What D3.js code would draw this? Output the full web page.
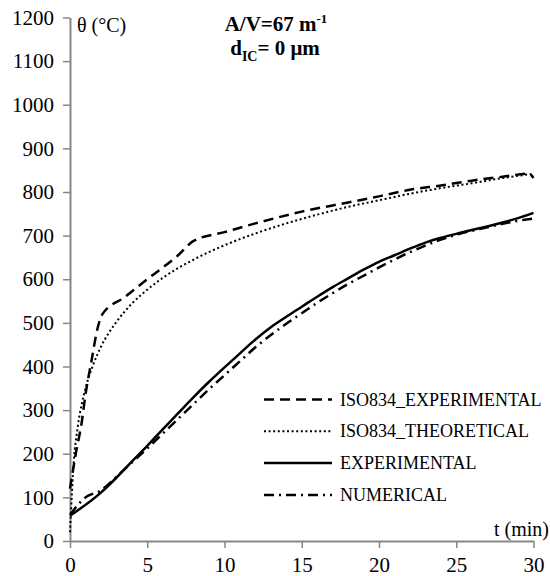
<!DOCTYPE html>
<html>
<head>
<meta charset="utf-8">
<script src="https://cdn.jsdelivr.net/npm/d3@7"></script>
<style>
    body { margin: 0; background: #fff; }
</style>
</head>
<body>
<div class="drawingboard"></div>
<script>
// time in minutes, temperatures in deg C
const tIsoExp = [0, 0.4, 0.75, 1, 1.4, 1.8, 2.1, 3.5, 5, 7, 8, 10, 12, 15, 18, 20, 22, 24, 26, 28, 29.7, 30];
const isoExp  = [120, 205, 270, 335, 415, 490, 520, 558, 600, 655, 688, 708, 728, 755, 776, 790, 805, 815, 826, 835, 842, 832];

const tIsoTheo = [0, 0.25, 0.5, 1, 1.5, 2, 3, 4, 5, 6, 8, 10, 12, 14, 16, 18, 20, 22, 24, 26, 28, 30];
const isoTheo  = [20, 185, 261, 349, 404, 445, 502, 544, 576, 603, 645, 678, 705, 728, 748, 766, 781, 796, 809, 820, 832, 842];

const tSteel = [0, 2, 3, 4, 5, 6, 7, 8, 9, 10, 11, 12, 13, 14, 15, 16, 17, 18, 19, 20, 21, 22, 23, 24, 25, 26, 27, 28, 29, 30];
const experimental = [58, 111, 145, 182, 218, 256, 293, 330, 365, 398, 430, 462, 490, 514, 537, 560, 582, 602, 622, 640, 655, 670, 684, 695, 704, 713, 721, 730, 740, 752];

const tNum = [0, 1, 2, 3, 4, 5, 6, 7, 8, 9, 10, 11, 12, 13, 14, 15, 16, 17, 18, 19, 20, 21, 22, 23, 24, 25, 26, 27, 28, 29, 30];
const numerical = [60, 100, 116, 147, 180, 212, 246, 280, 314, 348, 380, 412, 444, 472, 498, 522, 546, 568, 589, 608, 627, 645, 662, 677, 691, 702, 711, 719, 727, 734, 739];

const xTicks = [0, 5, 10, 15, 20, 25, 30];
const yTicks = [0, 100, 200, 300, 400, 500, 600, 700, 800, 900, 1000, 1100, 1200];

const seriesNames = ["ISO834_EXPERIMENTAL", "ISO834_THEORETICAL", "EXPERIMENTAL", "NUMERICAL"];
const dashes = ["10,6", "2,2.6", null, "10,5,2,5"];

function init() {
    var width = 550;
    var height = 576;
    var axisColor = "#878787";
    var serif = "Liberation Serif";

    var svg = d3.select(".drawingboard")
        .append("svg")
        .attr("width", width)
        .attr("height", height)
        .attr("font-family", serif);

    var x = d3.scaleLinear().domain([0, 30]).range([70, 533.5]);
    var y = d3.scaleLinear().domain([0, 1200]).range([541, 17.5]);

    // axes
    var yAxis = svg.append("g")
        .attr("transform", "translate(" + x(0) + ",0)")
        .call(d3.axisLeft(y).tickValues(yTicks).tickFormat(d3.format("d"))
            .tickSize(7).tickSizeOuter(0).tickPadding(9));

    var xAxis = svg.append("g")
        .attr("transform", "translate(0," + y(0) + ")")
        .call(d3.axisBottom(x).tickValues(xTicks).tickFormat(d3.format("d"))
            .tickSize(7).tickSizeOuter(0).tickPadding(9));

    [xAxis, yAxis].forEach(function (a) {
        a.attr("font-family", serif).attr("font-size", 21);
        a.select(".domain").attr("stroke", axisColor).attr("stroke-width", 2);
        a.selectAll(".tick line").attr("stroke", axisColor).attr("stroke-width", 1.5);
        a.selectAll(".tick text").attr("fill", "#000");
    });

    // series
    var all = [
        { t: tIsoExp, v: isoExp },
        { t: tIsoTheo, v: isoTheo },
        { t: tSteel, v: experimental },
        { t: tNum, v: numerical }
    ];

    var line = d3.line()
        .x(function (d) { return x(d[0]); })
        .y(function (d) { return y(d[1]); })
        .curve(d3.curveMonotoneX);

    all.forEach(function (s, i) {
        var pts = s.t.map(function (t, j) { return [t, s.v[j]]; });
        svg.append("path")
            .datum(pts)
            .attr("fill", "none")
            .attr("stroke", "#000")
            .attr("stroke-width", i == 1 ? 2 : 2.5)
            .attr("stroke-dasharray", dashes[i])
            .attr("d", line);
    });

    // legend
    var legend = svg.append("g");
    seriesNames.forEach(function (name, i) {
        var ly = 399.5 + i * 31.8;
        legend.append("line")
            .attr("x1", 264).attr("x2", 332)
            .attr("y1", ly).attr("y2", ly)
            .attr("stroke", "#000")
            .attr("stroke-width", i == 1 ? 2 : 2.5)
            .attr("stroke-dasharray", dashes[i]);
        legend.append("text")
            .attr("x", 340)
            .attr("y", ly + 6)
            .attr("font-family", serif)
            .attr("font-size", 18)
            .text(name);
    });

    // axis titles
    svg.append("text")
        .attr("x", 77).attr("y", 32)
        .attr("font-family", serif)
        .attr("font-size", 20)
        .text("θ (°C)");

    svg.append("text")
        .attr("x", 549).attr("y", 536)
        .attr("text-anchor", "end")
        .attr("font-family", serif)
        .attr("font-size", 20)
        .text("t (min)");

    // title block
    var t1 = svg.append("text")
        .attr("x", 276).attr("y", 31)
        .attr("text-anchor", "middle")
        .attr("font-family", serif)
        .attr("font-size", 21)
        .attr("font-weight", "bold");
    t1.append("tspan").text("A/V=67 m");
    t1.append("tspan").attr("dy", -8).attr("font-size", 13).text("-1");

    var t2 = svg.append("text")
        .attr("x", 275).attr("y", 55)
        .attr("text-anchor", "middle")
        .attr("font-family", serif)
        .attr("font-size", 21)
        .attr("font-weight", "bold");
    t2.append("tspan").text("d");
    t2.append("tspan").attr("dy", 6).attr("font-size", 14).text("IC");
    t2.append("tspan").attr("dy", -6).text("= 0 μm");
}
init();
</script>
</body>
</html>
